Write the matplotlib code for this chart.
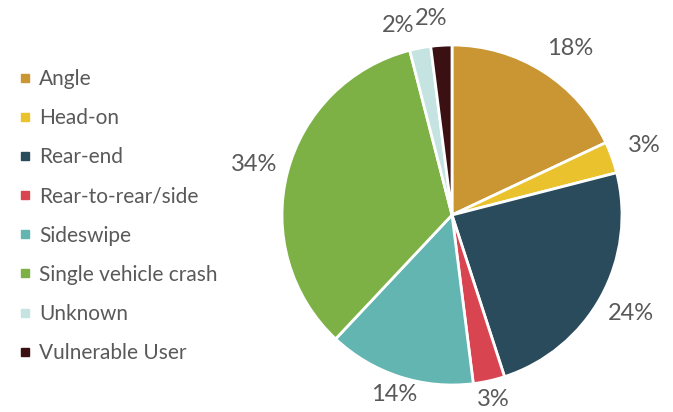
import numpy as np
import matplotlib
matplotlib.use("Agg")
import matplotlib.pyplot as plt
from matplotlib.lines import Line2D

plt.rcParams["font.family"] = ["Lato", "DejaVu Sans"]

categories = [
    "Angle",
    "Head-on",
    "Rear-end",
    "Rear-to-rear/side",
    "Sideswipe",
    "Single vehicle crash",
    "Unknown",
    "Vulnerable User",
]
shares = [18, 3, 24, 3, 14, 34, 2, 2]
colors = ["#CA9633", "#E9C22E", "#2A4B5B", "#D8444F", "#63B5B1", "#7DB145", "#C4E3E1", "#3B1013"]
text_color = "#595959"

# small angle nudges (deg) so the crowded labels don't collide
label_nudge = [-3, 0, 0, 0, 0, 0, 5, 2.5]

fig = plt.figure(figsize=(6.73, 4.12), dpi=100)
cx, cy, r = 452, 215, 170
ax = fig.add_axes([(cx - r) / 673, (412 - cy - r) / 412, 2 * r / 673, 2 * r / 412])

wedges, _ = ax.pie(
    shares,
    colors=colors,
    startangle=90,
    counterclock=False,
    radius=1,
    wedgeprops=dict(edgecolor="white", linewidth=2),
)
ax.set_xlim(-1, 1)
ax.set_ylim(-1, 1)
ax.set_aspect("equal")
ax.axis("off")

total = sum(shares)
for w, v, nudge in zip(wedges, shares, label_nudge):
    ang = np.deg2rad((w.theta1 + w.theta2) / 2 + nudge)
    if np.sin(ang) > 0.9:
        d = 1.16
    elif np.sin(ang) > -0.5:
        d = 1.2
    else:
        d = 1.11
    ax.text(d * np.cos(ang), d * np.sin(ang), f"{round(100 * v / total)}%",
            ha="center", va="center", fontsize=17, color=text_color, clip_on=False)

handles = [Line2D([], [], marker="s", linestyle="none", markersize=6,
                  markerfacecolor=c, markeredgecolor=c) for c in colors]
leg = fig.legend(handles, categories, loc="upper left", bbox_to_anchor=(0.013, 0.858),
                 frameon=False, fontsize=15, labelspacing=0.92, handlelength=0.6,
                 handletextpad=0.35, borderpad=0)
for t in leg.get_texts():
    t.set_color(text_color)

fig.savefig("out.png", dpi=100)
